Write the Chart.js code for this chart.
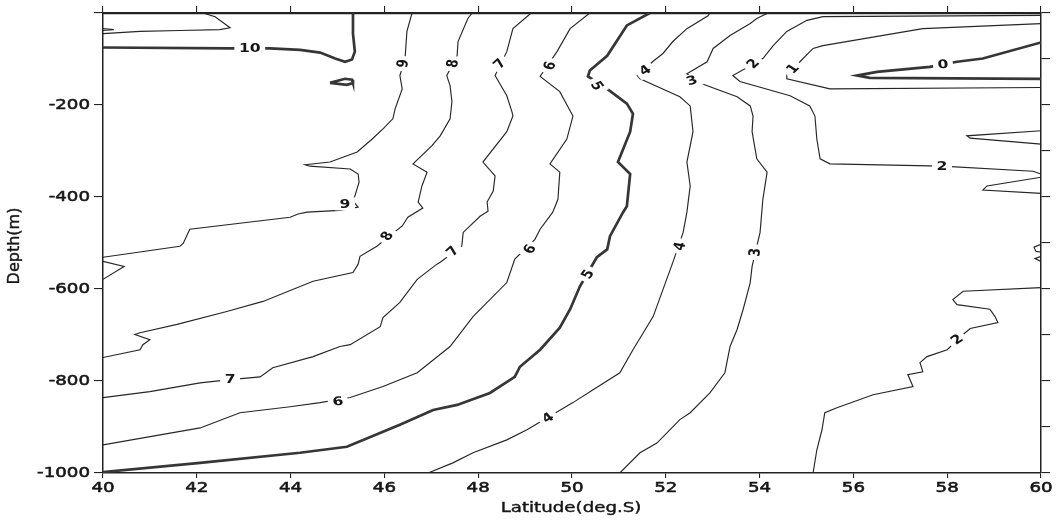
<!DOCTYPE html>
<html>
<head>
<meta charset="utf-8">
<script src="https://cdn.jsdelivr.net/npm/chart.js@4.4.1/dist/chart.umd.min.js"></script>
<style>
  html, body { margin: 0; background: #fff; }
</style>
</head>
<body>
<canvas id="chart" width="1060" height="524"></canvas>
<script>
// contour lines, [latitude, depth]
const lineTopLeft = [[42.13,0],[42.39,-8],[42.71,-32],[42.49,-36],[41.64,-38],[40.79,-40],[40.00,-45]];
const notchTopLeft = [[40.00,-34],[40.23,-36],[40.00,-38]];
const c10 = [[40.00,-75],[42.71,-77],[43.56,-77],[44.20,-80],[44.63,-86],[44.95,-99],[45.16,-106],[45.31,-101],[45.37,-84],[45.33,-45],[45.33,0]];
const c10loop = [[44.84,-152],[45.16,-143],[45.31,-145],[45.33,-152],[45.20,-156],[44.84,-152]];
const c9 = [[46.59,0],[46.48,-40],[46.44,-99],[46.33,-136],[46.38,-165],[46.23,-208],[46.18,-230],[45.97,-252],[45.74,-274],[45.42,-302],[44.84,-324],[44.31,-330],[44.41,-333],[45.27,-339],[45.44,-350],[45.46,-368],[45.37,-398],[45.33,-409],[45.44,-422],[45.05,-429],[44.35,-433],[44.16,-437],[43.99,-444],[41.85,-470],[41.71,-501],[41.64,-507],[40.00,-531]];
const notch9 = [[40.00,-540],[40.45,-551],[40.00,-579]];
const c8 = [[47.87,0],[47.78,-12],[47.57,-62],[47.55,-93],[47.33,-136],[47.40,-158],[47.44,-193],[47.40,-230],[47.19,-267],[47.01,-289],[46.61,-328],[46.91,-346],[46.80,-376],[46.72,-411],[46.82,-424],[46.50,-444],[46.38,-463],[45.84,-507],[45.48,-529],[45.44,-546],[45.33,-564],[44.48,-583],[43.41,-627],[42.64,-649],[41.58,-677],[40.79,-695],[40.68,-699],[41.00,-710],[40.85,-721],[40.79,-732],[40.00,-749]];
const c7 = [[49.13,0],[48.74,-34],[48.61,-84],[48.36,-136],[48.61,-180],[48.72,-215],[48.74,-224],[48.61,-258],[48.10,-324],[48.36,-354],[48.32,-387],[48.19,-411],[48.21,-431],[48.04,-442],[47.68,-477],[47.65,-507],[47.19,-542],[47.12,-546],[46.70,-579],[46.33,-629],[45.97,-662],[45.91,-682],[45.27,-721],[45.05,-725],[44.48,-747],[43.62,-771],[43.35,-791],[42.71,-797],[42.07,-804],[41.00,-823],[40.00,-836]];
const c6 = [[50.38,0],[49.96,-34],[49.68,-84],[49.32,-138],[49.74,-171],[50.02,-224],[49.89,-274],[49.53,-328],[49.74,-346],[49.70,-405],[49.59,-433],[49.32,-470],[49.21,-492],[48.78,-535],[48.61,-586],[47.89,-660],[47.40,-725],[46.70,-782],[45.97,-812],[45.27,-836],[44.63,-847],[43.99,-856],[42.92,-869],[42.07,-902],[40.00,-939]];
const c5 = [[51.66,0],[51.17,-27],[50.75,-93],[50.38,-125],[50.34,-138],[50.75,-165],[51.17,-197],[51.30,-219],[51.24,-258],[50.98,-324],[51.24,-350],[51.17,-420],[51.09,-433],[50.81,-485],[50.75,-514],[50.53,-531],[50.17,-594],[49.96,-644],[49.74,-684],[49.32,-732],[48.89,-769],[48.78,-791],[48.25,-826],[47.55,-852],[47.04,-863],[46.33,-895],[45.20,-943],[44.20,-956],[42.07,-978],[40.00,-998]];
const c4 = [[52.94,0],[52.90,-6],[52.45,-34],[52.15,-62],[51.94,-88],[51.73,-105],[51.39,-136],[51.45,-143],[52.30,-182],[52.52,-202],[52.58,-258],[52.45,-324],[52.52,-376],[52.45,-433],[52.37,-477],[52.15,-542],[51.73,-660],[51.30,-732],[51.02,-782],[50.45,-819],[50.02,-847],[49.04,-906],[48.61,-928],[47.89,-956],[47.46,-978],[46.93,-1000]];
const c3 = [[54.18,0],[53.94,-12],[53.80,-23],[53.37,-49],[53.01,-77],[52.88,-106],[52.45,-132],[52.77,-154],[53.52,-182],[53.80,-202],[53.86,-224],[53.84,-258],[53.94,-317],[54.16,-346],[54.07,-405],[54.01,-477],[53.84,-551],[53.80,-586],[53.65,-644],[53.52,-688],[53.37,-725],[53.26,-782],[52.94,-826],[52.52,-869],[52.30,-884],[51.81,-935],[51.45,-956],[51.02,-1000]];
const c2top = [[60,-5],[55.35,-8],[55.01,-16],[54.58,-40],[54.29,-71],[54.07,-99],[53.43,-136],[53.58,-149],[54.65,-180],[55.07,-202],[55.18,-224],[55.22,-274],[55.29,-317],[55.50,-328],[57.89,-333],[59.83,-344],[60,-350]];
const c1 = [[60,-23],[57.48,-34],[55.35,-71],[55.14,-77],[54.86,-106],[54.58,-132],[54.58,-143],[55.50,-165],[60,-162]];
const c0 = [[60,-64],[58.76,-99],[58.21,-106],[57.63,-117],[56.50,-128],[56.08,-136],[56.35,-141],[60,-143]];
const c2low = [[60,-597],[58.34,-605],[58.12,-623],[58.21,-634],[58.91,-644],[59.02,-660],[59.08,-673],[58.49,-686],[58.34,-699],[58.00,-732],[57.57,-747],[57.42,-760],[57.48,-780],[57.16,-786],[57.27,-812],[56.42,-830],[55.65,-858],[55.39,-869],[55.33,-906],[55.22,-950],[55.14,-1000]];
const spikeA = [[60,-256],[58.42,-267],[58.49,-272],[60,-285]];
const spikeB = [[60,-357],[58.85,-376],[58.76,-385],[60,-392]];
const wiggleA = [[60,-503],[59.85,-509],[59.89,-518],[60,-520]];
const wiggleB = [[60,-529],[59.87,-534],[60,-540]];

const thinLines = [lineTopLeft, notchTopLeft, c9, notch9, c8, c7, c6, c4, c3, c2top, c1, c2low, spikeA, spikeB, wiggleA, wiggleB];
const thickLines = [c10, c10loop, c5, c0];

// contour labels: text, latitude, depth
const contourLabels = [
  ['10',43.13,-77], ['9',46.40,-110], ['8',47.46,-110], ['7',48.46,-110], ['6',49.53,-115],
  ['5',50.53,-158], ['4',51.56,-125], ['3',52.56,-147], ['2',53.86,-110], ['1',54.71,-121], ['0',57.91,-112],
  ['9',45.16,-415], ['8',46.06,-485], ['7',47.46,-518], ['6',49.10,-514], ['5',50.34,-568],
  ['4',52.30,-507], ['3',53.90,-520], ['2',57.89,-333],
  ['7',42.71,-797], ['6',45.01,-845], ['4',49.49,-880], ['2',58.21,-710]
];
const labelAngles = [0,-80,-80,-50,-70, 60,-35,-20,-50,-50,-5, 0,-60,-50,-60,-60, -75,-85,0, 0,-8,-35,-40];

const xTicks = [40,42,44,46,48,50,52,54,56,58,60];
const yTicks = [-200,-400,-600,-800,-1000];

const SX = 1.3; // the scan is stretched sideways
const INK = '#161616';

function toXY(pts) {
  return pts.map(p => ({x: p[0], y: p[1]}));
}

const datasets = [];
thinLines.forEach(pts => {
  datasets.push({data: toXY(pts), borderColor: '#262626', borderWidth: 1.15, showLine: true, pointRadius: 0, fill: false});
});
thickLines.forEach(pts => {
  datasets.push({data: toXY(pts), borderColor: '#363636', borderWidth: 2.7, showLine: true, pointRadius: 0, fill: false});
});

function wideText(ctx, txt, x, y, align) {
  ctx.save();
  ctx.translate(x, y);
  ctx.scale(SX, 1);
  ctx.textAlign = align;
  ctx.textBaseline = 'middle';
  ctx.fillText(txt, 0, 0);
  ctx.strokeText(txt, 0, 0);
  ctx.restore();
}

const textPlugin = {
  id: 'texts',
  afterDatasetsDraw(chart) {
    const {ctx} = chart;
    const xs = chart.scales.x, ys = chart.scales.y;
    ctx.font = 'bold 12px "DejaVu Sans"';
    contourLabels.forEach((l, i) => {
      const px = xs.getPixelForValue(l[1]);
      const py = ys.getPixelForValue(l[2]);
      ctx.save();
      ctx.translate(px, py);
      ctx.scale(SX, 1);
      ctx.rotate(labelAngles[i] * Math.PI / 180);
      const w = ctx.measureText(l[0]).width;
      ctx.fillStyle = '#fff';
      ctx.fillRect(-w / 2 - 3.5, -6.5, w + 7, 13);
      ctx.fillStyle = INK;
      ctx.textAlign = 'center';
      ctx.textBaseline = 'middle';
      ctx.fillText(l[0], 0, 0.5);
      ctx.restore();
    });
  },
  afterDraw(chart) {
    const {ctx} = chart;
    const xs = chart.scales.x, ys = chart.scales.y;
    ctx.save();
    ctx.fillStyle = INK;
    ctx.strokeStyle = INK;
    ctx.lineWidth = 0.55;
    ctx.font = '14px "DejaVu Sans"';
    xTicks.forEach(v => wideText(ctx, String(v), xs.getPixelForValue(v), 488, 'center'));
    yTicks.forEach(v => wideText(ctx, String(v), 90, ys.getPixelForValue(v), 'right'));
    ctx.lineWidth = 0.4;
    wideText(ctx, 'Latitude(deg.S)', 571, 508, 'center');
    ctx.font = '16px "DejaVu Sans"';
    ctx.translate(15, 246);
    ctx.rotate(-Math.PI / 2);
    ctx.textAlign = 'center';
    ctx.textBaseline = 'middle';
    ctx.fillText('Depth(m)', 0, 0);
    ctx.strokeText('Depth(m)', 0, 0);
    ctx.restore();
  }
};

function axis(pos, min, max, step, tickLen, size, borderWidth) {
  return {
    type: 'linear', position: pos, min: min, max: max,
    ticks: {display: false, stepSize: step},
    grid: {drawOnChartArea: false, drawTicks: true, tickLength: tickLen, color: '#222', lineWidth: 1.1},
    border: {display: true, color: '#222', width: borderWidth},
    afterFit(s) {
      if (s.isHorizontal()) s.height = size; else s.width = size;
    }
  };
}

new Chart(document.getElementById('chart'), {
  type: 'scatter',
  data: {datasets: datasets},
  options: {
    responsive: false,
    animation: false,
    layout: {padding: 0},
    plugins: {legend: {display: false}, tooltip: {enabled: false}},
    scales: {
      x: axis('bottom', 40, 60, 2, 5, 51, 1.5),
      x2: axis('top', 40, 60, 2, 7, 13, 2.2),
      y: axis('left', -1000, 0, 200, 9, 103, 1.5),
      y2: axis('right', -1000, 0, 100, 9, 19, 1.5)
    }
  },
  plugins: [textPlugin]
});
</script>
</body>
</html>
